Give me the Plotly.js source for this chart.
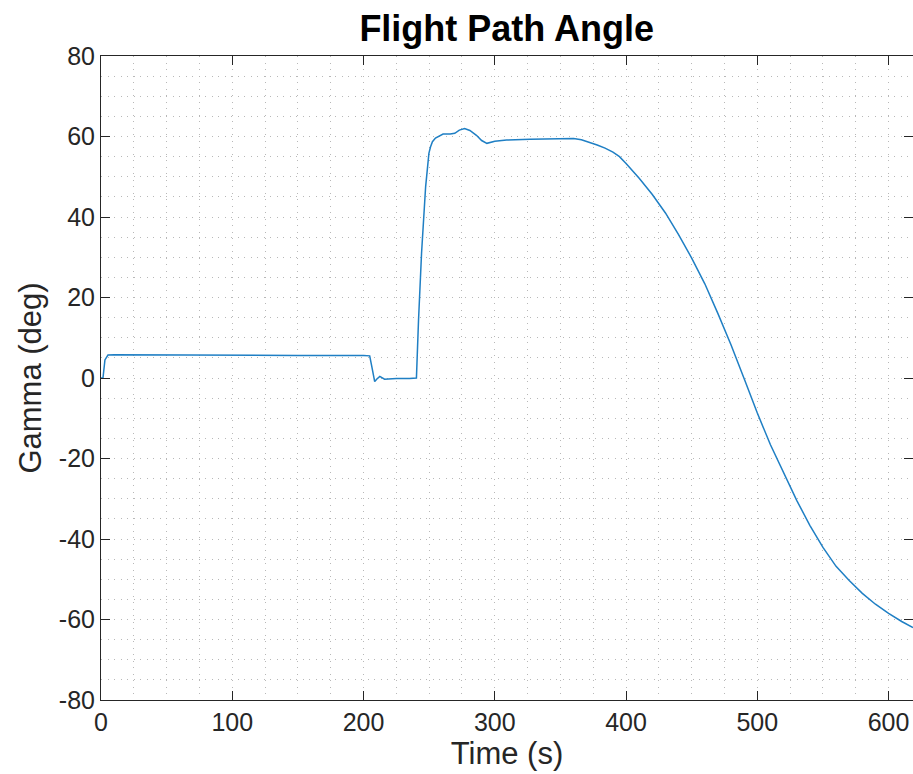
<!DOCTYPE html>
<html>
<head>
<meta charset="utf-8">
<script src="https://cdn.plot.ly/plotly-3.0.1.min.js"></script>
<style>
html,body{margin:0;padding:0;background:#fff;overflow:hidden;}
#chart{width:913px;height:774px;}
</style>
</head>
<body>
<div id="chart"></div>
<script>
const timeS = [0, 1.5, 3, 5.3, 10, 50, 100, 150, 200, 204.7, 206.5, 208.5, 210, 212.4, 216, 225, 235, 240.3,
  241.9, 244.2, 247.3, 249.8, 251, 252.5, 254.8, 258, 260.6, 266, 269.5, 273, 277, 281, 286, 290, 294, 300, 309, 327,
  345, 360, 366, 372, 378, 384, 390, 395, 400, 410, 420, 430, 440, 450, 460, 470, 480, 490, 500, 510,
  520, 530, 540, 550, 560, 570, 580, 590, 600, 610, 618.6];
const gammaDeg = [0, 0, 4.5, 5.7, 5.8, 5.7, 5.6, 5.6, 5.6, 5.5, 2.5, -0.9, -0.3, 0.4, -0.3, -0.1, -0.1, 0,
  14.4, 31, 47.5, 55.8, 57.4, 58.7, 59.6, 60.2, 60.6, 60.6, 60.8, 61.6, 62.0, 61.5, 60.3, 59.0, 58.3, 58.8, 59.1, 59.3,
  59.4, 59.5, 59.2, 58.6, 57.9, 57.1, 56.1, 55.0, 53.3, 49.6, 45.6, 41.0, 35.6, 29.8, 23.4, 16.0, 8.2, -0.2, -8.7, -16.6,
  -23.7, -30.4, -36.6, -42.1, -46.8, -50.3, -53.5, -56.2, -58.5, -60.5, -62.0];
const xTickVals = [0, 100, 200, 300, 400, 500, 600];
const yTickVals = [-80, -60, -40, -20, 0, 20, 40, 60, 80];

const font = 'Liberation Sans, Arial, Helvetica, sans-serif';
const axisColor = '#262626';
const gridCol = '#b8b8b8';

const trace = {
  x: timeS, y: gammaDeg, type: 'scatter', mode: 'lines',
  line: {color: '#1f7fc4', width: 1.5},
  hoverinfo: 'skip'
};

const commonAxis = {
  showline: true, linecolor: axisColor, linewidth: 1, mirror: 'ticks',
  ticks: 'inside', ticklen: 9, tickwidth: 1, tickcolor: axisColor,
  showgrid: true, gridcolor: gridCol, gridwidth: 1, griddash: '1px,5.5px',
  zeroline: false,
  tickfont: {family: font, size: 25, color: axisColor}
};

const layout = {
  width: 913, height: 774,
  margin: {l: 101, r: 0, t: 56, b: 74},
  paper_bgcolor: '#fff', plot_bgcolor: '#fff',
  showlegend: false,
  title: {text: '<b>Flight Path Angle</b>', font: {family: font, size: 36, color: '#000'},
          x: 0.555, xanchor: 'center', y: 0.963, yanchor: 'middle'},
  xaxis: Object.assign({}, commonAxis, {
    range: [0, 618.6], tickvals: xTickVals, ticktext: xTickVals.map(String),
    minor: {dtick: 25, tick0: 0, showgrid: true, gridcolor: gridCol, gridwidth: 1, griddash: '1px,5.5px', ticks: ''},
    title: {text: 'Time (s)', font: {family: font, size: 31, color: axisColor}, standoff: 4}
  }),
  yaxis: Object.assign({}, commonAxis, {
    range: [-80, 80], tickvals: yTickVals, ticktext: yTickVals.map(String),
    minor: {dtick: 5, tick0: 0, showgrid: true, gridcolor: gridCol, gridwidth: 1, griddash: '1px,5.5px', ticks: ''},
    title: {text: 'Gamma (deg)', font: {family: font, size: 31, color: axisColor}, standoff: 8}
  })
};

Plotly.newPlot('chart', [trace], layout, {displayModeBar: false, staticPlot: true});
</script>
</body>
</html>
